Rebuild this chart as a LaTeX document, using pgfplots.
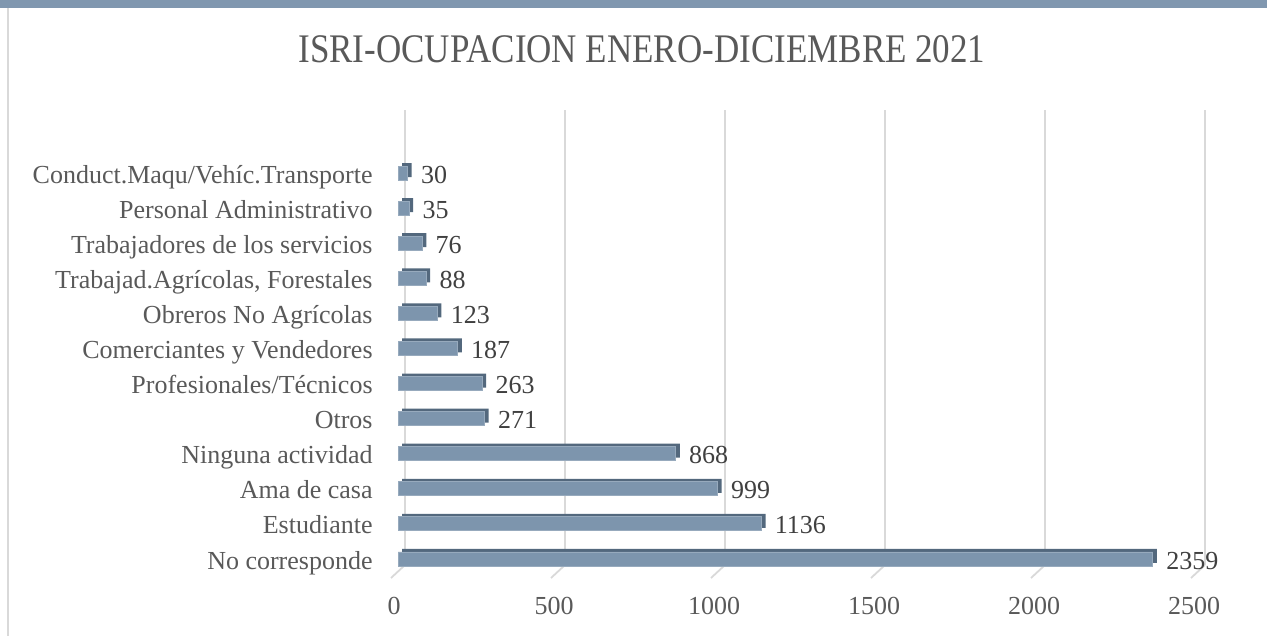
\documentclass[border=0pt]{standalone}
\usepackage{pgfplots}
\pgfplotsset{compat=1.18}
\usepackage{pgfplotstable}
\usepackage{graphicx}
\usepackage{fontspec}
\setmainfont{Liberation Serif}

\definecolor{txt}{HTML}{595959}
\definecolor{val}{HTML}{404040}
\definecolor{barface}{HTML}{7D95AD}
\definecolor{bardepth}{HTML}{53687D}
\definecolor{gridc}{HTML}{D9D9D9}
\definecolor{band}{HTML}{8097AF}

% ocupacion, de abajo hacia arriba
\pgfplotstableread{
idx valor
0 2359
1 1136
2 999
3 868
4 271
5 263
6 187
7 123
8 88
9 76
10 35
11 30
}\ocupacion

\begin{document}
\begin{tikzpicture}
\useasboundingbox (0,0) rectangle (633.5pt,318pt);
\fill[band] (0,314pt) rectangle (633.5pt,318pt);
\draw[gridc, line width=1pt] (4pt,0) -- (4pt,314pt);

\begin{axis}[
    at={(199pt,29.75pt)}, anchor=south west,
    scale only axis, clip=false,
    width=400pt, height=227.5pt,
    xbar, bar width=7pt,
    xmin=0, xmax=2500,
    ymin=-0.5, ymax=12.47,
    xtick={0,500,...,2500},
    ytick={0,...,11},
    yticklabels={No corresponde, Estudiante, Ama de casa, Ninguna actividad, Otros,
        Profesionales/Técnicos, Comerciantes y Vendedores, Obreros No Agrícolas,
        {Trabajad.Agrícolas, Forestales}, Trabajadores de los servicios,
        Personal Administrativo, Conduct.Maqu/Vehíc.Transporte},
    axis line style={draw=none},
    major tick length=0pt,
    xmajorgrids,
    grid style={gridc, line width=0.9pt, xshift=3.5pt, yshift=5.75pt},
    tick label style={font=\fontsize{13}{15}\selectfont, text=txt},
    /pgf/number format/.cd, assume math mode=true, 1000 sep={}, /pgfplots/.cd,
    xticklabel style={anchor=center, yshift=-14.75pt, xshift=-2pt},
    yticklabel style={anchor=east, inner xsep=0pt, xshift=-12.5pt,
        text height=10.1pt, text depth=0pt},
    scaled x ticks=false,
]
% pie de la rejilla (suelo 3D)
\pgfplotsinvokeforeach{0,500,1000,1500,2000,2500}{
    \draw[gridc, line width=0.9pt] ([xshift=3.5pt,yshift=5.75pt]axis cs:#1,-0.5) -- ++(-7pt,-6.5pt);
}
\addplot[bar shift=0pt, fill=bardepth, draw=none, xshift=2pt, yshift=1.5pt]
    table[x=valor, y=idx] {\ocupacion};
\addplot[bar shift=0pt, fill=barface, draw=barface!80!white, line width=0.4pt,
    nodes near coords, point meta=x,
    every node near coord/.append style={anchor=west, inner xsep=0pt, xshift=6.5pt,
        font=\fontsize{13}{15}\selectfont, text=val, text height=10.1pt, text depth=0pt}]
    table[x=valor, y=idx] {\ocupacion};
\end{axis}

\node[anchor=base, text=txt, inner sep=0pt] at (321pt,286.5pt)
    {\resizebox{343.5pt}{13.5pt}{ISRI-OCUPACION ENERO-DICIEMBRE 2021}};
\end{tikzpicture}
\end{document}
